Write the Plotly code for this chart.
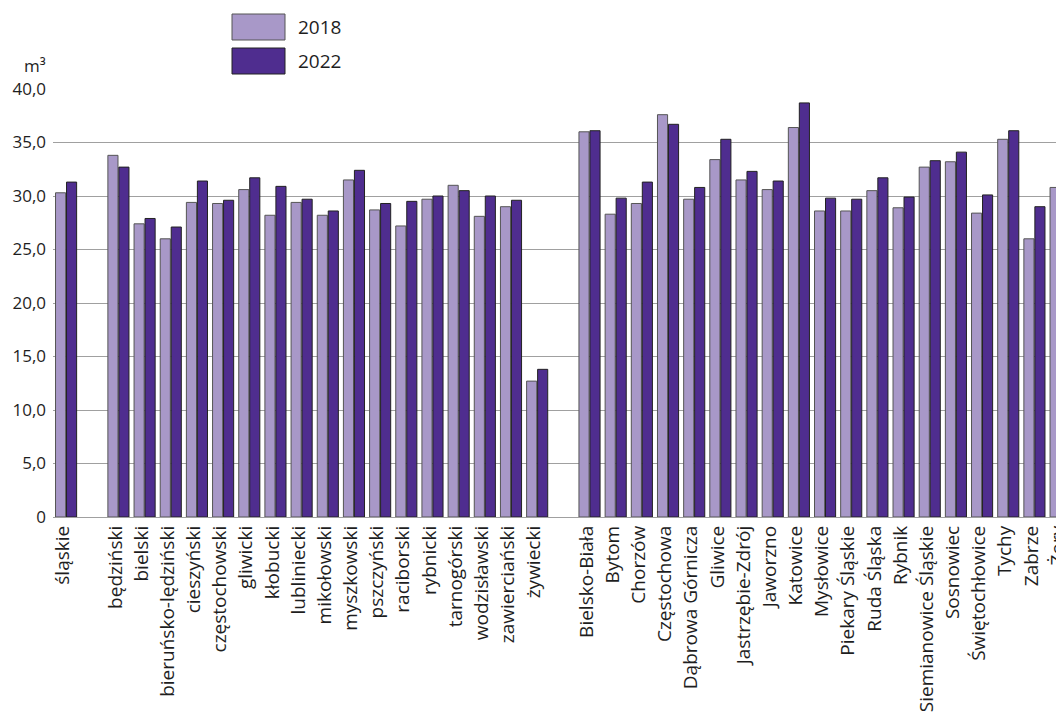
import plotly.graph_objects as go

categories = ["śląskie", " ",
              "będziński", "bielski", "bieruńsko-lędziński", "cieszyński", "częstochowski",
              "gliwicki", "kłobucki", "lubliniecki", "mikołowski", "myszkowski", "pszczyński",
              "raciborski", "rybnicki", "tarnogórski", "wodzisławski", "zawierciański", "żywiecki",
              "  ",
              "Bielsko-Biała", "Bytom", "Chorzów", "Częstochowa", "Dąbrowa Górnicza", "Gliwice",
              "Jastrzębie-Zdrój", "Jaworzno", "Katowice", "Mysłowice", "Piekary Śląskie",
              "Ruda Śląska", "Rybnik", "Siemianowice Śląskie", "Sosnowiec", "Świętochłowice",
              "Tychy", "Zabrze", "Żory"]

values_2018 = [30.3, None,
               33.8, 27.4, 26.0, 29.4, 29.3, 30.6, 28.2, 29.4, 28.2, 31.5, 28.7,
               27.2, 29.7, 31.0, 28.1, 29.0, 12.7,
               None,
               36.0, 28.3, 29.3, 37.6, 29.7, 33.4, 31.5, 30.6, 36.4, 28.6, 28.6,
               30.5, 28.9, 32.7, 33.2, 28.4, 35.3, 26.0, 30.8]

values_2022 = [31.3, None,
               32.7, 27.9, 27.1, 31.4, 29.6, 31.7, 30.9, 29.7, 28.6, 32.4, 29.3,
               29.5, 30.0, 30.5, 30.0, 29.6, 13.8,
               None,
               36.1, 29.8, 31.3, 36.7, 30.8, 35.3, 32.3, 31.4, 38.7, 29.8, 29.7,
               31.7, 29.9, 33.3, 34.1, 30.1, 36.1, 29.0, 34.0]

series_names = ["2018", "2022"]
y_tickvals = [0, 5, 10, 15, 20, 25, 30, 35, 40]
y_ticktext = ["0", "5,0", "10,0", "15,0", "20,0", "25,0", "30,0", "35,0", "40,0"]

C18 = "#a898c8"
C22 = "#4f2d8f"
FONT = "Open Sans"
TXT = "#1e1e1e"

# page body has an 8px margin; layout is given in window pixels and shifted
OX, OY = 8, 8
W, H = 1064 - OX, 713 - OY
L, T = 53 - OX, 89 - OY
B = H - (517 - OY)
R = 0
pw, ph = W - L - R, H - T - B

def px(x):
    return (x - OX - L) / pw

def py(y):
    return (H - B - (y - OY)) / ph

fig = go.Figure()
fig.add_trace(go.Bar(x=categories, y=values_2018, name=series_names[0],
                     marker=dict(color=C18, line=dict(color="#555555", width=1)),
                     showlegend=False))
fig.add_trace(go.Bar(x=categories, y=values_2022, name=series_names[1],
                     marker=dict(color=C22, line=dict(color="#222222", width=1)),
                     showlegend=False))

# legend boxes
for (y0, y1), col, lc, name in [((14, 40), C18, "#555555", series_names[0]),
                                ((48, 74), C22, "#222222", series_names[1])]:
    fig.add_shape(type="rect", xref="paper", yref="paper",
                  x0=px(232), x1=px(285), y0=py(y1), y1=py(y0),
                  fillcolor=col, line=dict(color=lc, width=1))
    fig.add_annotation(xref="paper", yref="paper", x=px(296), y=py((y0 + y1) / 2),
                       text=name, showarrow=False, xanchor="left", yanchor="middle",
                       font=dict(family=FONT, size=19, color=TXT))

fig.add_annotation(xref="paper", yref="paper", x=px(48), y=py(66),
                   text="m³", showarrow=False, xanchor="right", yanchor="middle",
                   font=dict(family=FONT, size=17, color=TXT))

fig.update_layout(
    width=W, height=H,
    margin=dict(l=L, r=R, t=T, b=B, autoexpand=False),
    paper_bgcolor="white", plot_bgcolor="white",
    barmode="group", bargap=0.16, bargroupgap=0.08,
    font=dict(family=FONT, color=TXT),
)
fig.update_xaxes(type="category", range=[-0.5, 38.13], tickangle=-90,
                 tickfont=dict(family=FONT, size=19, color=TXT),
                 showgrid=False, showline=False, ticks="", automargin=False,
                 ticklabelstandoff=4, ticklabelshift=-3, ticklabeloverflow="allow")
fig.update_yaxes(range=[0, 40], tickvals=y_tickvals, ticktext=y_ticktext,
                 tickfont=dict(family=FONT, size=17, color=TXT),
                 showgrid=True, gridcolor="#a0a0a0", gridwidth=1,
                 zeroline=True, zerolinecolor="#a0a0a0", zerolinewidth=1,
                 showline=False, ticks="", automargin=False, ticklabelstandoff=6)

fig.write_html("out.html")
